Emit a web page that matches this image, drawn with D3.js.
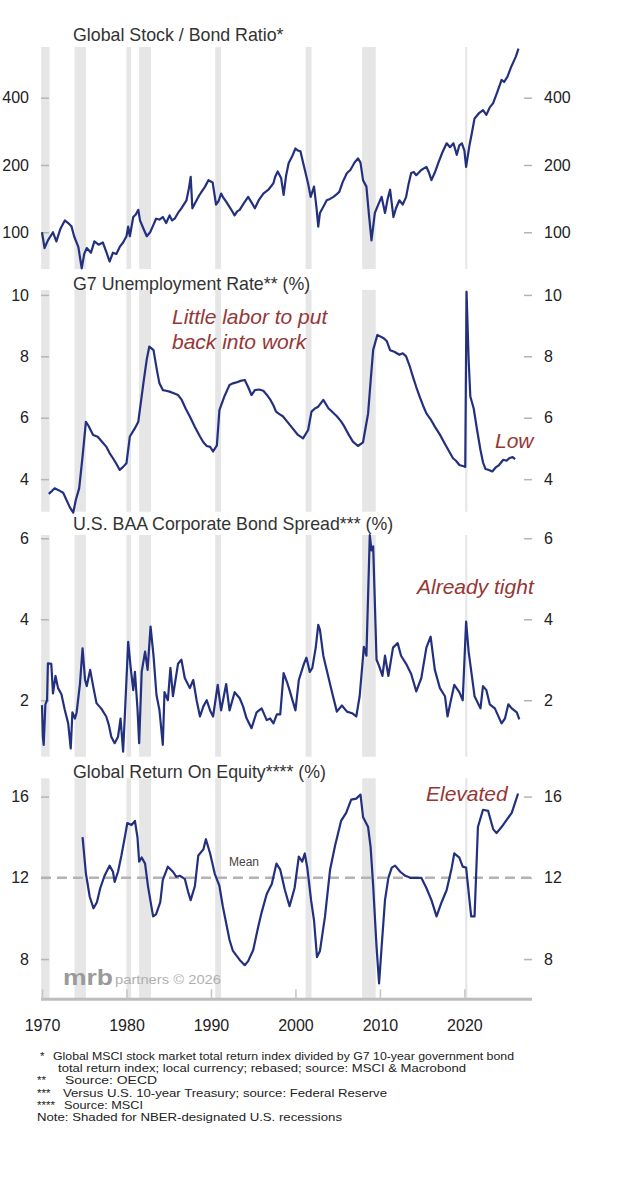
<!DOCTYPE html>
<html>
<head>
<meta charset="utf-8">
<script src="https://cdn.jsdelivr.net/npm/d3@7"></script>
<style>
  body { margin: 0; background: #fff; }
  text { font-family: "Liberation Sans", Arial, sans-serif; }
</style>
</head>
<body>
<div id="chart"></div>
<script>
// Data: [year, value]
const recessions = [[1969.9, 1970.9], [1973.85, 1975.2], [1980.0, 1980.55], [1981.5, 1982.9],
    [1990.5, 1991.2], [2001.2, 2001.9], [2007.9, 2009.5], [2020.1, 2020.35]];

const stockBond = [[1970.0,100],[1970.3,85],[1970.7,92],[1971.3,100],[1971.7,91],[1972.2,104],[1972.7,113],
    [1973.1,110],[1973.5,106],[1973.8,96],[1974.3,86],[1974.7,69],[1975.0,80],[1975.3,85],[1975.8,81],[1976.2,91],
    [1976.7,88],[1977.2,90],[1977.6,82],[1978.0,74],[1978.4,81],[1978.8,80],[1979.2,86],[1979.6,90],[1980.0,96],
    [1980.2,106],[1980.4,96],[1980.8,117],[1981.1,120],[1981.4,126],[1981.6,113],[1982.0,104],[1982.4,96],[1982.8,100],
    [1983.1,106],[1983.5,115],[1983.9,114],[1984.3,117],[1984.7,110],[1985.1,119],[1985.4,113],[1985.7,115],[1986.1,122],
    [1986.5,128],[1987.1,139],[1987.4,158],[1987.6,177],[1987.8,128],[1988.3,139],[1988.6,146],[1988.9,152],[1989.3,160],
    [1989.7,171],[1990.2,167],[1990.6,133],[1990.9,138],[1991.2,149],[1991.5,142],[1991.8,137],[1992.3,128],[1992.8,119],
    [1993.1,124],[1993.4,126],[1993.9,135],[1994.4,144],[1994.8,136],[1995.2,128],[1995.7,140],[1996.2,149],[1996.8,155],
    [1997.4,166],[1997.6,177],[1997.9,187],[1998.3,175],[1998.6,147],[1998.9,180],[1999.2,204],[1999.6,218],[2000.0,237],
    [2000.3,232],[2000.6,230],[2000.9,205],[2001.2,184],[2001.5,165],[2001.8,144],[2002.2,160],[2002.5,128],[2002.7,106],
    [2002.9,122],[2003.3,130],[2003.7,139],[2004.1,141],[2004.5,144],[2004.9,148],[2005.2,152],[2005.6,168],[2006.1,184],
    [2006.5,190],[2007.0,205],[2007.4,214],[2007.7,205],[2008.0,171],[2008.4,160],[2008.7,120],[2009.0,92],[2009.4,122],
    [2009.8,133],[2010.2,144],[2010.6,122],[2010.9,140],[2011.2,155],[2011.6,117],[2011.9,128],[2012.3,139],[2012.7,133],
    [2013.1,144],[2013.4,165],[2013.7,184],[2014.0,186],[2014.3,180],[2014.9,190],[2015.5,196],[2015.8,185],[2016.1,171],
    [2016.5,185],[2016.9,204],[2017.4,228],[2017.9,250],[2018.3,240],[2018.7,250],[2019.1,222],[2019.4,245],[2019.7,250],
    [2020.0,232],[2020.2,196],[2020.6,245],[2020.9,280],[2021.2,323],[2021.7,340],[2022.2,352],[2022.6,335],[2023.0,362],
    [2023.4,378],[2023.9,425],[2024.4,480],[2024.7,470],[2025.1,497],[2025.5,545],[2025.9,589],[2026.1,612],[2026.4,663]];

const unemployment = [[1970.8,3.52],[1971.2,3.62],[1971.5,3.70],[1971.9,3.65],[1972.5,3.56],[1972.9,3.32],[1973.3,3.08],
    [1973.7,2.91],[1974.0,3.32],[1974.4,3.70],[1974.8,4.73],[1975.2,5.87],[1975.5,5.74],[1976.05,5.44],[1976.6,5.38],
    [1977.1,5.22],[1977.6,5.06],[1978.0,4.85],[1978.4,4.68],[1978.8,4.50],[1979.2,4.30],[1979.6,4.40],[1980.0,4.52],
    [1980.4,5.39],[1981.0,5.66],[1981.4,5.87],[1982.0,7.12],[1982.4,7.90],[1982.7,8.32],[1983.2,8.20],[1983.6,7.55],
    [1983.9,7.12],[1984.3,6.90],[1984.7,6.88],[1985.1,6.85],[1985.6,6.80],[1986.1,6.74],[1986.5,6.60],[1987.0,6.30],
    [1987.5,6.04],[1988.1,5.70],[1988.7,5.39],[1989.1,5.20],[1989.5,5.08],[1989.9,5.05],[1990.25,4.90],[1990.7,5.10],
    [1991.0,6.25],[1991.6,6.70],[1992.2,7.07],[1992.6,7.12],[1993.0,7.15],[1993.5,7.20],[1994.0,7.23],[1994.4,7.00],
    [1994.8,6.74],[1995.2,6.90],[1995.7,6.92],[1996.2,6.88],[1996.6,6.75],[1997.0,6.60],[1997.4,6.40],[1997.7,6.20],
    [1998.1,6.12],[1998.5,6.05],[1999.0,5.88],[1999.5,5.71],[2000.3,5.44],[2000.9,5.33],[2001.5,5.60],[2001.9,6.20],
    [2002.3,6.30],[2002.7,6.36],[2003.3,6.58],[2003.9,6.31],[2004.4,6.18],[2004.9,6.05],[2005.4,5.88],[2005.8,5.71],
    [2006.3,5.45],[2006.8,5.22],[2007.4,5.08],[2008.0,5.20],[2008.6,6.14],[2008.9,7.20],[2009.2,8.21],[2009.7,8.70],
    [2010.0,8.65],[2010.4,8.60],[2010.8,8.50],[2011.2,8.20],[2011.7,8.15],[2012.3,8.05],[2012.7,8.10],[2013.1,8.00],
    [2013.5,7.70],[2013.9,7.34],[2014.3,7.00],[2014.7,6.69],[2015.1,6.40],[2015.5,6.14],[2016.0,5.95],[2016.5,5.71],
    [2017.1,5.45],[2017.65,5.17],[2018.2,4.90],[2018.65,4.68],[2019.0,4.60],[2019.4,4.46],[2020.0,4.41],[2020.1,4.40],
    [2020.25,10.10],[2020.5,7.88],[2020.7,6.69],[2021.1,6.30],[2021.5,5.60],[2021.9,4.95],[2022.2,4.55],[2022.5,4.33],
    [2022.9,4.30],[2023.3,4.25],[2023.7,4.38],[2024.1,4.46],[2024.6,4.63],[2025.0,4.60],[2025.3,4.68],[2025.7,4.72],
    [2026.0,4.65]];

const baaSpread = [[1970.0,1.88],[1970.1,1.10],[1970.2,0.90],[1970.4,1.90],[1970.6,2.00],[1970.7,2.91],[1971.1,2.90],
    [1971.3,2.17],[1971.6,2.60],[1971.9,2.30],[1972.3,2.15],[1972.7,1.76],[1973.1,1.43],[1973.4,0.81],[1973.6,1.70],
    [1973.9,1.55],[1974.1,1.70],[1974.5,2.42],[1974.8,3.28],[1975.1,2.50],[1975.3,2.35],[1975.7,2.75],[1976.1,2.30],
    [1976.45,1.93],[1977.0,1.80],[1977.6,1.60],[1977.9,1.40],[1978.2,1.10],[1978.6,0.94],[1979.0,1.10],[1979.3,1.55],
    [1979.6,0.73],[1979.8,1.60],[1980.2,3.44],[1980.5,2.80],[1980.8,2.25],[1981.0,2.70],[1981.3,1.80],[1981.5,0.94],
    [1981.8,2.70],[1982.2,3.20],[1982.5,2.75],[1982.85,3.82],[1983.2,3.10],[1983.55,2.13],[1983.9,1.76],[1984.3,0.90],
    [1984.5,2.20],[1984.9,2.00],[1985.2,2.80],[1985.5,2.10],[1986.1,2.90],[1986.5,3.00],[1986.9,2.55],[1987.5,2.30],
    [1987.9,2.50],[1988.3,2.00],[1988.7,1.60],[1989.1,1.85],[1989.5,2.00],[1989.9,1.75],[1990.25,1.60],[1990.8,2.38],
    [1991.2,1.75],[1991.8,2.40],[1992.2,1.75],[1992.8,2.20],[1993.4,2.05],[1993.8,1.85],[1994.2,1.56],[1994.8,1.31],
    [1995.4,1.70],[1996.0,1.80],[1996.6,1.51],[1997.0,1.55],[1997.4,1.43],[1997.8,1.65],[1998.2,1.65],[1998.6,2.67],
    [1999.0,2.45],[1999.3,2.25],[2000.0,1.75],[2000.4,2.50],[2001.0,2.90],[2001.3,3.05],[2001.7,2.70],[2002.0,2.80],
    [2002.4,3.30],[2002.7,3.86],[2002.9,3.74],[2003.3,3.10],[2003.7,2.75],[2004.3,2.22],[2004.9,1.72],[2005.5,1.87],
    [2006.1,1.72],[2006.7,1.68],[2007.2,1.60],[2007.6,2.10],[2008.1,3.32],[2008.4,3.10],[2008.8,6.08],[2009.0,5.70],
    [2009.2,5.80],[2009.6,3.00],[2009.9,2.85],[2010.3,2.60],[2010.6,3.10],[2011.0,2.60],[2011.55,3.30],[2012.1,3.41],
    [2012.5,3.10],[2013.1,2.90],[2013.7,2.65],[2014.3,2.22],[2014.9,2.55],[2015.5,3.30],[2016.0,3.57],[2016.5,2.75],
    [2017.1,2.30],[2017.7,2.10],[2018.0,1.60],[2018.3,1.90],[2018.8,2.38],[2019.4,2.20],[2019.8,2.00],[2020.2,3.94],
    [2020.5,3.20],[2020.85,2.65],[2021.2,2.10],[2021.9,1.80],[2022.2,2.35],[2022.6,2.25],[2023.0,1.90],[2023.6,1.80],
    [2024.4,1.43],[2024.8,1.55],[2025.2,1.90],[2025.6,1.80],[2026.2,1.70],[2026.5,1.53]];

const roe = [[1974.8,14.0],[1975.2,12.2],[1975.65,11.07],[1976.1,10.5],[1976.5,10.8],[1976.9,11.5],[1977.4,12.1],
    [1978.0,12.6],[1978.4,12.3],[1978.6,11.8],[1979.0,12.3],[1979.4,13.1],[1979.8,14.0],[1980.1,14.7],[1980.6,14.6],
    [1981.0,14.8],[1981.3,14.0],[1981.5,12.8],[1981.8,13.0],[1982.2,12.7],[1982.55,11.57],[1983.15,10.1],[1983.5,10.2],
    [1984.0,10.8],[1984.3,11.9],[1984.9,12.55],[1985.5,12.3],[1985.9,12.05],[1986.3,12.1],[1986.9,11.95],[1987.3,11.3],
    [1987.6,10.9],[1988.1,11.6],[1988.5,13.1],[1989.1,13.4],[1989.4,13.9],[1989.9,13.2],[1990.45,12.2],[1991.0,11.6],
    [1991.4,10.6],[1992.2,8.94],[1992.6,8.4],[1993.4,7.96],[1994.0,7.7],[1994.4,7.9],[1995.0,8.45],[1995.6,9.6],
    [1996.0,10.3],[1996.6,11.2],[1997.2,11.7],[1997.75,12.7],[1998.2,12.4],[1998.75,11.4],[1999.3,10.6],[1999.9,11.5],
    [2000.4,13.05],[2000.8,12.8],[2001.1,13.2],[2001.4,12.5],[2001.85,10.9],[2002.2,9.9],[2002.55,8.1],[2002.9,8.4],
    [2003.5,10.1],[2004.1,12.4],[2004.7,13.6],[2005.4,14.8],[2006.0,15.2],[2006.6,15.85],[2007.2,15.9],[2007.7,16.1],
    [2008.0,15.0],[2008.6,14.5],[2008.9,13.5],[2009.2,11.6],[2009.6,8.6],[2009.9,6.8],[2010.2,8.6],[2010.6,10.9],
    [2011.0,12.0],[2011.4,12.5],[2011.8,12.6],[2012.4,12.3],[2013.0,12.1],[2013.6,12.0],[2014.3,12.0],[2014.9,12.0],
    [2015.5,11.5],[2016.1,10.9],[2016.7,10.1],[2017.3,10.8],[2017.9,11.4],[2018.5,12.5],[2018.8,13.2],[2019.4,13.0],
    [2019.8,12.55],[2020.2,12.5],[2020.6,10.9],[2020.8,10.1],[2021.2,10.1],[2021.6,14.5],[2022.2,15.35],[2022.8,15.3],
    [2023.4,14.4],[2023.8,14.2],[2024.4,14.5],[2025.0,14.85],[2025.6,15.2],[2026.0,15.7],[2026.35,16.15]];

const roeMean = 12;

const titles = ['Global Stock / Bond Ratio*', 'G7 Unemployment Rate** (%)',
    'U.S. BAA Corporate Bond Spread*** (%)', 'Global Return On Equity**** (%)'];
const yTicks = [[100, 200, 400], [4, 6, 8, 10], [2, 4, 6], [8, 12, 16]];
const xTicks = [1970, 1980, 1990, 2000, 2010, 2020];

const notes = [
    ['*', 'Global MSCI stock market total return index divided by G7 10-year government bond'],
    ['', 'total return index; local currency; rebased; source: MSCI & Macrobond'],
    ['**', 'Source: OECD'],
    ['***', 'Versus U.S. 10-year Treasury; source: Federal Reserve'],
    ['****', 'Source: MSCI'],
    ['', 'Note: Shaded for NBER-designated U.S. recessions']
];

// Layout
const W = 640, H = 1180;
const left = 41, right = 532;
const lineColor = '#22307e';
const noteRed = '#953735';

const panels = [
    { data: stockBond, top: 47, bottom: 269, domain: [68.5, 674], log: true, titleY: 41 },
    { data: unemployment, top: 290, bottom: 511.7, domain: [2.94, 10.16], titleY: 290 },
    { data: baaSpread, top: 535, bottom: 756.7, domain: [0.607, 6.08], titleY: 530 },
    { data: roe, top: 778.3, bottom: 999.3, domain: [6.02, 16.9], titleY: 778 }
];

const svg = d3.select('#chart').append('svg')
    .attr('width', W)
    .attr('height', H);

const x = d3.scaleLinear().domain([1970, 2028]).range([42, right]);

panels.forEach((p, i) => {
    const y = (p.log ? d3.scaleLog() : d3.scaleLinear())
        .domain(p.domain)
        .range([p.bottom, p.top]);

    const g = svg.append('g');

    // recession shading
    g.selectAll('.rec')
        .data(recessions)
        .enter()
        .append('rect')
        .attr('x', d => Math.max(left, x(d[0])))
        .attr('width', d => x(d[1]) - Math.max(left, x(d[0])))
        .attr('y', p.top)
        .attr('height', p.bottom - p.top)
        .attr('fill', '#e6e6e6');

    const yl = d3.axisLeft(y).tickValues(yTicks[i]).tickSize(-8).tickPadding(12).tickFormat(d3.format('d'));
    const yr = d3.axisRight(y).tickValues(yTicks[i]).tickSize(-8).tickPadding(12).tickFormat(d3.format('d'));

    [[yl, left], [yr, right]].forEach(([ax, xp]) => {
        const a = g.append('g')
            .attr('transform', `translate(${xp},0)`)
            .call(ax);
        a.select('.domain').remove();
        a.selectAll('line').attr('stroke', '#b4b4b4').attr('stroke-width', 1.5);
        a.selectAll('text').attr('fill', '#222').style('font-size', '16px');
    });

    if (i === 3) {
        g.append('line')
            .attr('x1', left).attr('x2', right)
            .attr('y1', y(roeMean)).attr('y2', y(roeMean))
            .attr('stroke', '#b3b3b3')
            .attr('stroke-width', 2.5)
            .attr('stroke-dasharray', '10,6');
        g.append('text')
            .attr('x', 229).attr('y', y(roeMean) - 12)
            .attr('fill', '#444')
            .style('font-size', '12px')
            .text('Mean');
    }

    g.append('path')
        .datum(p.data)
        .attr('fill', 'none')
        .attr('stroke', lineColor)
        .attr('stroke-width', 2.2)
        .attr('stroke-linejoin', 'round')
        .attr('d', d3.line().x(d => x(d[0])).y(d => y(d[1])));

    g.append('text')
        .attr('x', 73)
        .attr('y', p.titleY)
        .attr('fill', '#333')
        .style('font-size', '17.8px')
        .text(titles[i]);
});

// bottom axis
const xa = svg.append('g')
    .attr('transform', `translate(0,${999.3})`)
    .call(d3.axisBottom(x).tickValues(xTicks).tickSize(-10).tickSizeOuter(0).tickPadding(20).tickFormat(d3.format('d')));
xa.select('.domain').attr('stroke', '#bdbdbd').attr('stroke-width', 3).attr('d', `M${left},0H${right}`);
xa.selectAll('line').attr('stroke', '#c4c4c4').attr('stroke-width', 1.5);
xa.selectAll('text').attr('fill', '#222').style('font-size', '16px');

// annotations
const ann = svg.append('g')
    .attr('fill', noteRed)
    .style('font-family', 'Lato, "Open Sans", sans-serif')
    .style('font-style', 'italic')
    .style('font-size', '21px');
ann.append('text').attr('x', 172).attr('y', 324).text('Little labor to put');
ann.append('text').attr('x', 172).attr('y', 349).text('back into work');
ann.append('text').attr('x', 495).attr('y', 448).text('Low');
ann.append('text').attr('x', 417).attr('y', 594).text('Already tight');
ann.append('text').attr('x', 426).attr('y', 801).text('Elevated');

// logo
svg.append('text')
    .attr('x', 63).attr('y', 985)
    .attr('fill', '#9a9a9a')
    .style('font-size', '22px')
    .style('font-weight', 'bold')
    .attr('textLength', 50)
    .attr('lengthAdjust', 'spacingAndGlyphs')
    .text('mrb');
svg.append('text')
    .attr('x', 115).attr('y', 984)
    .attr('fill', '#b0b0b0')
    .style('font-size', '13px')
    .attr('textLength', 106)
    .attr('lengthAdjust', 'spacingAndGlyphs')
    .text('partners © 2026');

// footnotes
const markX = [40, 0, 37, 37, 37, 0];
const textX = [53, 58, 65, 63, 64, 37];
const textW = [461, 408, 92, 324, 79, 305];
const fn = svg.append('g')
    .attr('fill', '#222')
    .style('font-size', '11.5px');
notes.forEach((n, i) => {
    const yy = 1060 + i * 12.2;
    if (n[0]) fn.append('text').attr('x', markX[i]).attr('y', yy).text(n[0]);
    fn.append('text')
        .attr('x', textX[i]).attr('y', yy)
        .attr('textLength', textW[i])
        .attr('lengthAdjust', 'spacingAndGlyphs')
        .text(n[1]);
});
</script>
</body>
</html>
